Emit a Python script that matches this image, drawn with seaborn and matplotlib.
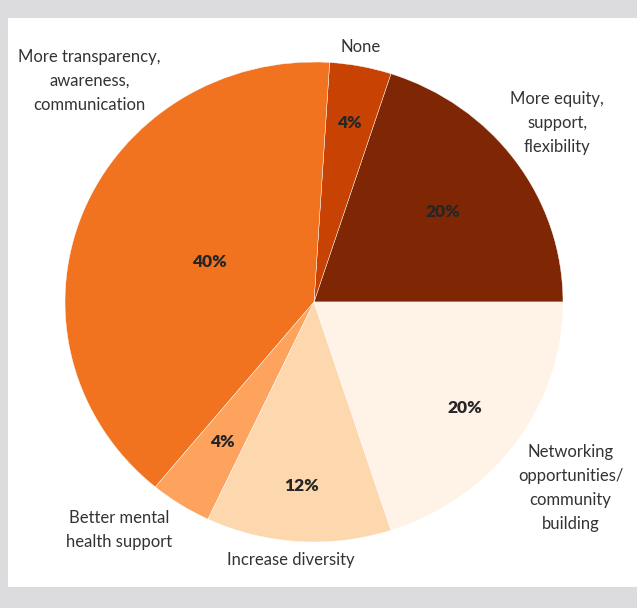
import numpy as np
import matplotlib
matplotlib.use("Agg")
import matplotlib.pyplot as plt
from matplotlib.patches import Rectangle
import seaborn as sns

# ---- data ----
categories = ["More equity,\nsupport,\nflexibility", "None",
              "More transparency,\nawareness,\ncommunication",
              "Better mental\nhealth support", "Increase diversity",
              "Networking\nopportunities/\ncommunity\nbuilding"]
values = [20, 4, 40, 4, 12, 20]
pct_labels = ["20%", "4%", "40%", "4%", "12%", "20%"]

# ---- style ----
colors = ["#7f2704", "#c84303", "#f2731f", "#fda35d", "#fdd7ad", "#fff2e6"]
pct_r = [0.64, 0.76, 0.45, 0.69, 0.77, 0.75]
lab_r = [1.23, 1.08, 1.29, 1.23, 1.08, 1.29]
lab_da = [1.4, 0.8, -24.0, -7.1, -1.4, -1.0]

sns.set_theme(style="white")
plt.rcParams['font.family'] = ['Lato', 'DejaVu Sans']

fig = plt.figure(figsize=(6.37, 6.08), dpi=100, facecolor="#dcdcde")
fig.patches.append(Rectangle((8/637, 21/608), 1 - 8/637, (587-18)/608,
                             transform=fig.transFigure, facecolor="white",
                             edgecolor="none", zorder=-5))
ax = fig.add_axes([65/637, 66/608, 498/637, 480/608])
ax.set_zorder(2)
ax.set_facecolor("none")

wedges, _ = ax.pie(values, colors=colors, startangle=0, counterclock=True,
                   wedgeprops=dict(edgecolor="white", linewidth=0.3))
ax.set_aspect("auto")
ax.set_xlim(-1, 1)
ax.set_ylim(-1, 1)
ax.axis("off")

total = sum(values)
cum = np.cumsum([0] + values[:-1])
for i, (v, c0) in enumerate(zip(values, cum)):
    mid = np.deg2rad((c0 + v / 2) / total * 360)
    ax.text(pct_r[i] * np.cos(mid), pct_r[i] * np.sin(mid), pct_labels[i],
            ha="center", va="center", fontsize=12.5, fontweight="heavy",
            color="#262626")
    la = mid + np.deg2rad(lab_da[i])
    ax.text(lab_r[i] * np.cos(la), lab_r[i] * np.sin(la), categories[i],
            ha="center", va="center", fontsize=12, color="#333333",
            linespacing=1.62, clip_on=False)

fig.savefig("out.png", dpi=100, facecolor=fig.get_facecolor())
